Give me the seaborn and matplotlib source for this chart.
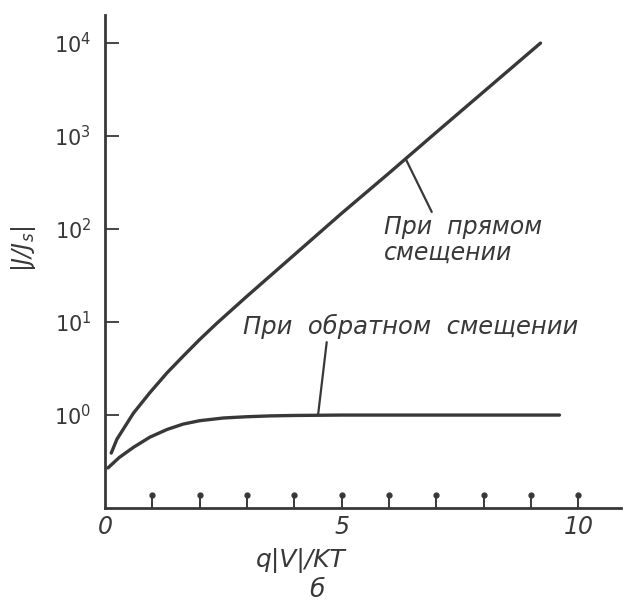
import numpy as np
import pandas as pd
import seaborn as sns
import matplotlib.pyplot as plt
from matplotlib.transforms import blended_transform_factory

# values
forward_x = [0.13, 0.25, 0.6, 0.95, 1.31, 1.65, 2.0, 2.37, 3.0, 4.0,
             5.0, 6.0, 7.0, 8.0, 9.2]
forward_y = [0.39, 0.55, 1.05, 1.75, 2.85, 4.3, 6.5, 9.8, 19, 53,
             148, 400, 1100, 3000, 10000]
reverse_x = [0.06, 0.3, 0.6, 0.95, 1.31, 1.65, 2.0, 2.5, 3.0, 3.5,
             4.0, 5.0, 6.0, 7.0, 8.0, 9.6]
reverse_y = [0.27, 0.35, 0.45, 0.58, 0.70, 0.80, 0.87, 0.93, 0.96, 0.98,
             0.99, 1.0, 1.0, 1.0, 1.0, 1.0]

x_ticks = [1, 2, 3, 4, 5, 6, 7, 8, 9, 10]
x_labels = {0: '0', 5: '5', 10: '10'}
y_ticks = [1e0, 1e1, 1e2, 1e3, 1e4]
y_labels = ['$10^{0}$', '$10^{1}$', '$10^{2}$', '$10^{3}$', '$10^{4}$']

label_forward = 'При  прямом\nсмещении'
label_reverse = 'При  обратном  смещении'

sns.set_style('white')
plt.rcParams['font.family'] = ['DejaVu Sans']
plt.rcParams['mathtext.default'] = 'it'
ink = '#383838'

df = pd.concat([
    pd.DataFrame({'x': forward_x, 'y': forward_y, 'bias': 'forward'}),
    pd.DataFrame({'x': reverse_x, 'y': reverse_y, 'bias': 'reverse'}),
])

fig = plt.figure(figsize=(6.33, 6.07), dpi=100)
ax = fig.add_axes([0.166, 0.163, 0.815, 0.812])

sns.lineplot(data=df, x='x', y='y', units='bias', estimator=None,
             color=ink, linewidth=2.4, ax=ax, legend=False)

ax.set_yscale('log')
ax.set_xlim(0, 10.9)
ax.set_ylim(1e-1, 10 ** 4.3)

sns.despine(ax=ax)
for side in ['left', 'bottom']:
    ax.spines[side].set_color(ink)
    ax.spines[side].set_linewidth(2.0)

# y ticks pointing into the plot
ax.set_yticks(y_ticks)
ax.set_yticklabels(y_labels)
ax.yaxis.set_minor_locator(plt.NullLocator())
ax.tick_params(axis='y', left=True, direction='in', length=10, width=1.3,
               color=ink, labelsize=15, labelcolor=ink, pad=10)

# x ticks pointing up with a dot at the tip
ax.set_xticks(x_ticks)
ax.set_xticklabels([''] * len(x_ticks))
ax.tick_params(axis='x', bottom=True, direction='in', length=9, width=1.4,
               color=ink)
trans = blended_transform_factory(ax.transData, ax.transAxes)
ax.plot(x_ticks, [0.026] * len(x_ticks), 'o', ms=3.5, color=ink,
        transform=trans, clip_on=False)
for val, txt in x_labels.items():
    ax.text(val, -0.014, txt, transform=trans, ha='center', va='top',
            fontsize=17, style='italic', color=ink)

ax.set_xlabel('')
ax.set_ylabel('')
fig.text(0.475, 0.077, 'q|V|/KT', ha='center', va='center',
         fontsize=18, style='italic', color=ink)
fig.text(0.5, 0.028, 'б', ha='center', va='center',
         fontsize=18, style='italic', color=ink)
fig.text(0.037, 0.59, '|J/J$_s$|', ha='center', va='center', rotation=90,
         fontsize=17, style='italic', color=ink)

# curve annotations with leader lines
ax.annotate(label_forward, xy=(6.35, 570), xytext=(5.9, 76),
            fontsize=17, style='italic', color=ink, ha='left', va='center',
            linespacing=1.1,
            arrowprops=dict(arrowstyle='-', color=ink, lw=1.6,
                            shrinkA=0, shrinkB=0, relpos=(0.31, 1.0)))
ax.annotate(label_reverse, xy=(4.5, 1.0), xytext=(2.92, 9.0),
            fontsize=17.5, style='italic', color=ink, ha='left', va='center',
            arrowprops=dict(arrowstyle='-', color=ink, lw=1.6,
                            shrinkA=0, shrinkB=0, relpos=(0.25, 0.0)))

fig.savefig('out.png', dpi=100, facecolor='white')
